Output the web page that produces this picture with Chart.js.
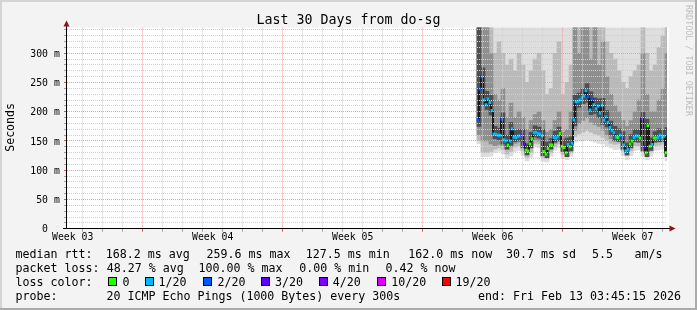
<!DOCTYPE html>
<html>
<head>
<meta charset="utf-8">
<title>Last 30 Days from do-sg</title>
<script src="https://cdn.jsdelivr.net/npm/chart.js@4.4.1/dist/chart.umd.min.js"></script>
<style>
  html, body { margin: 0; padding: 0; background: #f3f3f3; }
  #wrap { position: relative; width: 697px; height: 310px; }
</style>
</head>
<body>
<div id="wrap"><canvas id="smokeChart" width="697" height="310"></canvas></div>
<script>
// x axis is "days since window start" (window = 30 days ending Fri Feb 13 03:45:15 2026)

// median rtt in ms, one sample every 0.1 day starting at day 20.55
const medianRtt = [
  186, 239, 260, 220, 212, 222, 216, 202, 162, 161,
  160, 160, 187, 152, 150, 143, 150, 171, 157, 156,
  158, 159, 160, 145, 134, 133, 145, 154, 164, 165,
  163, 162, 159, 132, 127.5, 137, 143, 143, 156, 155,
  158, 163, 141, 139, 130, 144, 140, 146, 186, 217,
  218, 220, 224, 227, 236, 226, 203, 222, 212, 205,
  210, 198, 211, 186, 191, 182, 173, 168, 164, 157,
  156, 160, 155, 143, 133, 136, 145, 150, 156, 159,
  158, 155, 188, 140, 130, 176, 141, 144, 155, 155,
  156, 160, 156, 158, 130, 162
];
// loss bucket of each median sample (index into lossLabels)
const medianLoss = [
  2, 2, 2, 1, 1, 1, 1, 1, 1, 1,
  1, 1, 2, 1, 1, 0, 1, 1, 1, 1,
  1, 1, 4, 3, 0, 0, 0, 0, 1, 1,
  1, 1, 1, 0, 0, 0, 0, 0, 1, 1,
  1, 0, 0, 0, 0, 1, 0, 1, 1, 1,
  1, 1, 1, 1, 1, 2, 1, 2, 1, 1,
  1, 1, 1, 1, 1, 1, 1, 1, 1, 1,
  0, 1, 2, 1, 1, 1, 0, 0, 1, 1,
  1, 0, 3, 3, 0, 0, 0, 1, 0, 0,
  1, 1, 1, 1, 0, 1
];

// smoke (spread of the 20 pings), one column every 0.2 day starting at day 20.6
const smokeLow = [
  145, 123, 123, 124, 130, 132, 128, 120, 124, 132,
  134, 125, 116, 122, 140, 138, 115, 114, 124, 134,
  138, 120, 118, 124, 148, 150, 150, 152, 150, 148,
  146, 145, 142, 138, 135, 136, 125, 118, 125, 134,
  135, 124, 118, 124, 134, 135, 136, 116
];
const smokeTop = 345;
const midLow = [
  150, 130, 130, 132, 136, 138, 135, 128, 132, 140,
  142, 133, 122, 130, 146, 145, 122, 120, 130, 140,
  145, 127, 124, 130, 158, 162, 165, 168, 165, 162,
  160, 156, 152, 146, 144, 145, 133, 125, 133, 142,
  142, 132, 125, 132, 142, 143, 144, 124
];
const midHigh = [
  345, 345, 345, 345, 300, 320, 300, 280, 290, 270,
  300, 280, 250, 270, 290, 300, 270, 230, 240, 300,
  320, 230, 250, 280, 345, 345, 345, 345, 345, 345,
  345, 345, 320, 300, 290, 270, 250, 240, 260, 270,
  280, 345, 300, 270, 280, 310, 330, 345
];
const darkLow = [
  160, 150, 150, 145, 142, 144, 142, 136, 140, 146,
  148, 140, 128, 138, 152, 150, 128, 126, 136, 146,
  150, 132, 130, 136, 168, 180, 185, 190, 182, 178,
  175, 168, 160, 154, 150, 150, 140, 130, 140, 148,
  148, 138, 130, 138, 148, 148, 150, 128
];
const darkHigh = [
  345, 345, 345, 300, 230, 220, 240, 190, 215, 190,
  200, 190, 170, 185, 195, 200, 185, 165, 170, 185,
  200, 165, 170, 200, 345, 300, 345, 345, 290, 345,
  280, 320, 260, 230, 210, 200, 185, 175, 185, 200,
  220, 300, 230, 200, 200, 220, 240, 300
];
const coreLow = [
  175, 212, 204, 194, 154, 152, 145, 136, 143, 149,
  150, 138, 126, 138, 157, 155, 125, 121, 136, 148,
  150, 132, 123, 133, 176, 208, 214, 216, 195, 197,
  190, 178, 174, 160, 150, 149, 136, 126, 138, 149,
  148, 133, 123, 134, 148, 149, 149, 123
];
const coreHigh = [
  345, 275, 235, 228, 175, 172, 198, 160, 182, 168,
  170, 170, 145, 165, 176, 174, 170, 148, 154, 167,
  174, 152, 155, 157, 228, 232, 240, 248, 234, 224,
  222, 223, 202, 184, 175, 171, 166, 147, 161, 170,
  169, 199, 187, 155, 166, 171, 169, 173
];

const lossLabels = ['0', '1/20', '2/20', '3/20', '4/20', '10/20', '19/20'];
const lossColors = ['#26ff00', '#00b8ff', '#0059ff', '#5e00ff', '#7e00ff', '#dd00ff', '#ff0000'];

const weekLabels = ['Week 03', 'Week 04', 'Week 05', 'Week 06', 'Week 07'];
const weekLabelDays = [0.285, 7.285, 14.285, 21.285, 28.285];
const yTickValues = [0, 50, 100, 150, 200, 250, 300];
const yTickLabels = ['0  ', '50 m', '100 m', '150 m', '200 m', '250 m', '300 m'];

const medianStart = 20.55, medianStep = 0.1;
const smokeStart = 20.6, smokeStep = 0.2;
const firstDayLine = 0.785, firstWeekLine = 3.785;

const mono = '"DejaVu Sans Mono", monospace';
const minorGrid = '#cfcfcf';
const majorGrid = '#f19c9c';

const medianPoints = medianRtt.map((v, i) => ({ x: +(medianStart + i * medianStep).toFixed(3), y: v }));
const smokeX = smokeLow.map((_, j) => +(smokeStart + j * smokeStep).toFixed(3));
const band = (lo, hi) => lo.map((v, j) => ({ x: smokeX[j], y: [v, hi[j]] }));

const dayLines = [];
for (let d = firstDayLine; d < 30; d += 1) dayLines.push(+d.toFixed(3));
const yGrid = [];
for (let v = 10; v <= 340; v += 10) yGrid.push(v);

const isWeekLine = v => Math.abs((v - firstWeekLine) / 7 - Math.round((v - firstWeekLine) / 7)) < 1e-4;
const smokeBar = {
  type: 'bar', borderWidth: 0, grouped: false,
  barPercentage: 1, categoryPercentage: 1
};

// background, axes, arrows and all the rrdtool text
const rrdFrame = {
  id: 'rrdFrame',
  beforeDraw(chart) {
    const { ctx, width, height, chartArea: a } = chart;
    ctx.save();
    ctx.fillStyle = '#f3f3f3';
    ctx.fillRect(0, 0, width, height);
    ctx.fillStyle = '#d4d4d4';
    ctx.fillRect(0, 0, width, 2);
    ctx.fillRect(0, 0, 2, height);
    ctx.fillStyle = '#ababab';
    ctx.fillRect(0, height - 2, width, 2);
    ctx.fillRect(width - 2, 0, 2, height);
    ctx.fillStyle = '#ffffff';
    ctx.fillRect(a.left, a.top, a.right - a.left + 2, a.bottom - a.top);
    ctx.restore();
  },
  afterDraw(chart) {
    const { ctx, chartArea: a, scales: { x, y } } = chart;
    const x0 = Math.round(a.left) - 0.5;
    const y0 = Math.round(y.getPixelForValue(0) - 0.5) + 0.5;
    ctx.save();

    // axes
    ctx.strokeStyle = '#000000';
    ctx.lineWidth = 1;
    ctx.beginPath();
    ctx.moveTo(x0, y0);
    ctx.lineTo(x0, 25);
    ctx.moveTo(63, y0);
    ctx.lineTo(671, y0);
    ctx.stroke();

    ctx.fillStyle = '#8e1313';
    ctx.beginPath();
    ctx.moveTo(x0, 20.5);
    ctx.lineTo(x0 - 3, 26.5);
    ctx.lineTo(x0 + 3, 26.5);
    ctx.closePath();
    ctx.fill();
    ctx.beginPath();
    ctx.moveTo(675.5, y0);
    ctx.lineTo(669.5, y0 - 3);
    ctx.lineTo(669.5, y0 + 3);
    ctx.closePath();
    ctx.fill();

    ctx.fillStyle = '#000000';
    ctx.textBaseline = 'alphabetic';

    // title
    ctx.font = '13.3px ' + mono;
    ctx.textAlign = 'center';
    ctx.fillText('Last 30 Days from do-sg', 348.5, 24);

    // y tick labels
    ctx.font = '9.8px ' + mono;
    ctx.textAlign = 'right';
    yTickValues.forEach((v, i) => {
      ctx.fillText(yTickLabels[i], 59.8, y.getPixelForValue(v) + 3.6);
    });

    // x tick labels
    ctx.textAlign = 'center';
    weekLabelDays.forEach((d, i) => {
      ctx.fillText(weekLabels[i], x.getPixelForValue(d), 240);
    });

    // unit label
    ctx.font = '11.6px ' + mono;
    ctx.save();
    ctx.translate(14.4, 127.4);
    ctx.rotate(-Math.PI / 2);
    ctx.textAlign = 'center';
    ctx.fillText('Seconds', 0, 0);
    ctx.restore();

    // watermark
    ctx.save();
    ctx.fillStyle = '#bdbdbd';
    ctx.font = '8.4px ' + mono;
    ctx.translate(685.5, 5);
    ctx.rotate(Math.PI / 2);
    ctx.textAlign = 'left';
    ctx.fillText('RRDTOOL / TOBI OETIKER', 0, 0);
    ctx.restore();

    // legend
    ctx.font = '11.63px ' + mono;
    ctx.textAlign = 'left';
    const put = (txt, px, py) => ctx.fillText(txt, px, py);
    put('median rtt:', 15.5, 257.7);
    put('168.2 ms avg', 105.8, 257.7);
    put('259.6 ms max', 206.4, 257.7);
    put('127.5 ms min', 305.8, 257.7);
    put('162.0 ms now', 408.2, 257.7);
    put('30.7 ms sd', 506.1, 257.7);
    put('5.5', 592, 257.7);
    put('am/s', 634.5, 257.7);

    put('packet loss:', 15.5, 271.7);
    put('48.27 % avg', 106.8, 271.7);
    put('100.00 % max', 198.5, 271.7);
    put('0.00 % min', 299.2, 271.7);
    put('0.42 % now', 385.5, 271.7);

    put('loss color:', 15.5, 285.7);
    const boxX = [108, 145, 203, 261, 319, 377, 442];
    const textX = [122.4, 158.6, 217.4, 275.1, 332.8, 391.3, 455.6];
    lossLabels.forEach((lab, k) => {
      ctx.fillStyle = '#000000';
      ctx.fillRect(boxX[k], 277, 9, 9);
      ctx.fillStyle = lossColors[k];
      ctx.fillRect(boxX[k] + 1, 278, 7, 7);
      ctx.fillStyle = '#000000';
      put(lab, textX[k], 285.7);
    });

    put('probe:', 15.5, 299.7);
    put('20 ICMP Echo Pings (1000 Bytes) every 300s', 106.4, 299.7);
    put('end: Fri Feb 13 03:45:15 2026', 478, 299.7);

    ctx.restore();
  }
};

new Chart(document.getElementById('smokeChart'), {
  type: 'line',
  data: {
    datasets: [
      {
        label: 'median loss colour', data: medianPoints, showLine: false,
        pointStyle: 'rect', pointRadius: 2.1, pointBorderWidth: 0,
        pointBackgroundColor: medianLoss.map(k => lossColors[k]), order: 0
      },
      {
        label: 'median', data: medianPoints, stepped: 'middle',
        borderColor: '#1c1c1c', borderWidth: 2, pointRadius: 0, order: 1
      },
      { ...smokeBar, label: 'smoke core', data: band(coreLow, coreHigh), backgroundColor: '#4f4f4f', order: 2 },
      { ...smokeBar, label: 'smoke dark', data: band(darkLow, darkHigh), backgroundColor: '#8f8f8f', order: 3 },
      { ...smokeBar, label: 'smoke mid', data: band(midLow, midHigh), backgroundColor: '#bababa', order: 4 },
      { ...smokeBar, label: 'smoke', data: band(smokeLow, smokeLow.map(() => smokeTop)), backgroundColor: '#dedede', order: 5 }
    ]
  },
  options: {
    responsive: false,
    animation: false,
    devicePixelRatio: 1,
    layout: { padding: { top: 27.5, right: 30, left: 0, bottom: 0 } },
    plugins: { legend: { display: false }, tooltip: { enabled: false }, title: { display: false } },
    scales: {
      x: {
        type: 'linear', min: 0, max: 30, offset: false,
        afterBuildTicks: s => { s.ticks = dayLines.map(v => ({ value: v })); },
        afterFit: s => { s.height = 310 - 228.7; },
        ticks: { display: false },
        grid: {
          z: 1, offset: false, tickLength: 3,
          color: c => isWeekLine(c.tick.value) ? majorGrid : minorGrid,
          tickColor: c => isWeekLine(c.tick.value) ? '#e05050' : '#a0a0a0'
        },
        border: { display: false, dash: [1, 1] }
      },
      y: {
        type: 'linear', min: 0, max: 344.1,
        afterBuildTicks: s => { s.ticks = yGrid.map(v => ({ value: v })); },
        afterFit: s => { s.width = 67; },
        ticks: { display: false },
        grid: {
          z: 1, tickLength: 3,
          color: c => c.tick.value % 50 === 0 ? majorGrid : minorGrid,
          tickColor: c => c.tick.value % 50 === 0 ? '#e05050' : '#a0a0a0'
        },
        border: { display: false, dash: [1, 1] }
      }
    }
  },
  plugins: [rrdFrame]
});
</script>
</body>
</html>
